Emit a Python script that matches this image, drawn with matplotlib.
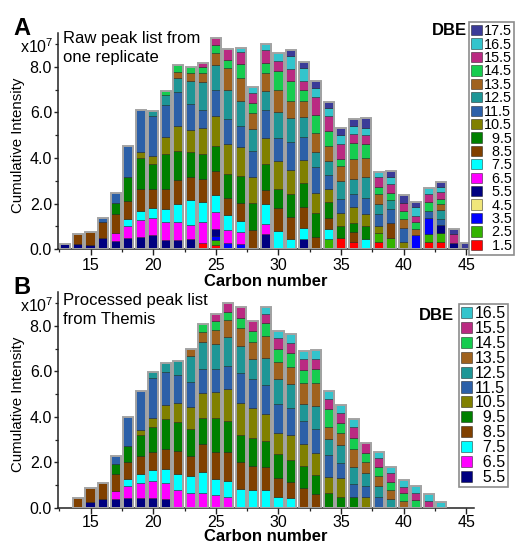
import matplotlib
matplotlib.use('Agg')
import matplotlib.pyplot as plt
import numpy as np
from matplotlib.ticker import MultipleLocator, FormatStrFormatter
from matplotlib.patches import Patch

W, H = 515, 543
plt.rcParams['font.family'] = ['Liberation Sans', 'DejaVu Sans']
plt.rcParams['mathtext.fontset'] = 'custom'
plt.rcParams['mathtext.rm'] = 'Liberation Sans'
plt.rcParams['mathtext.it'] = 'Liberation Sans:italic'
plt.rcParams['mathtext.bf'] = 'Liberation Sans:bold'

# ---------------- data ----------------
dbe_levels = ['1.5', '2.5', '3.5', '4.5', '5.5', '6.5', '7.5', '8.5', '9.5',
              '10.5', '11.5', '12.5', '13.5', '14.5', '15.5', '16.5', '17.5']
dbe_colors = ['#FF0000', '#33B300', '#0000FF', '#F0E67A', '#000080', '#FF00FF',
              '#00FFFF', '#804000', '#008000', '#808000', '#2C60A8', '#1E9696',
              '#A0621E', '#16CC4F', '#BA2A82', '#33C4CC', '#3B3B98']

# Panel A: raw peak list, carbon numbers 13..45 (intensity in 1e7)
carbons_a = list(range(13, 46))
a_1_5 = [0, 0, 0, 0, 0, 0, 0, 0, 0, 0, 0, .28, .18, 0, 0, 0, 0, 0, 0, 0, 0, 0, .48, .34, 0, .31, 0, 0, 0, .31, .31, 0, 0]
a_2_5 = [0, 0, 0, 0, 0, 0, 0, 0, 0, 0, 0, 0, .22, 0, 0, 0, 0, 0, 0, 0, 0, .45, 0, 0, 0, .39, .51, 0, 0, .35, .39, 0, 0]
a_3_5 = [0]*12 + [.17, .28, .25] + [0]*13 + [.63, .70] + [0, 0, 0]
a_4_5 = [0]*33
a_5_5 = [.22, .22, .19, .48, .37, .51, .54, .63, .41, .42, .47, 0, .34, 0, 0, 0, .66, 0, 0, .45, 0, 0, 0, 0, 0, 0, 0, 0, 0, 0, .37, .29, 0]
a_6_5 = [0, 0, 0, 0, .33, .49, .75, .73, .79, .78, .58, .92, .73, .55, .51, 0, .44] + [0]*16
a_7_5 = [0, 0, 0, 0, 0, .33, .41, .47, .56, .78, 1.13, .88, .76, .66, .48, 0, .88, .82, .45, .47, 0, .43, 0, 0, .44] + [0]*8
a_8_5 = [0, .44, .56, .71, .84, .78, .95, .82, .88, 1.08, .97, 1.02, 1.04, .78, .80, .86, .61, .98, .98, .95, .56, .48, 0, .41, 0, 0, .63, 0, 0, 0, 0, 0, 0]
a_9_5 = [0, 0, 0, 0, .48, 1.04, 1.35, 1.08, 1.53, 1.26, 1.13, 1.10, 1.08, 1.05, 1.17, 1.15, 1.13, .84, .99, 1.03, 1.02, .73, .52, .42, .60] + [0]*8
a_10_5 = [0, 0, 0, 0, 0, 0, .26, .37, .75, 1.08, .95, 1.10, 1.32, 1.32, 1.26, 1.17, 1.14, 1.24, 1.04, 1.02, .91, .55, .61, .70, .50, .34, 0, .34, 0, 0, 0, 0, 0]
a_11_5 = [0, 0, 0, .19, .44, 1.36, 1.83, 1.76, 1.40, 1.51, 1.14, .83, 1.14, 1.06, .95, 1.14, 1.25, 1.00, 1.23, 1.00, 1.14, .63, .59, .55, .70, .50, .63, .61, 0, .32, .26, 0, 0]
a_12_5 = [0]*7 + [.19, .45, .62, 1.03, 1.19, 1.10, 1.28, 1.10, .94, .83, 1.12, 1.06, .88, .62, .62, .80, .65, .95, .45, .40, 0, 0, 0, .40, 0, 0]
a_13_5 = [0]*9 + [.23, .35, .43, .51, .96, 1.01, .70, .78, 1.00, .77, .72, .85, .62, .66, .88, .81, .43, 0, .38, .25, 0, .25, 0, 0]
a_14_5 = [0]*8 + [.18, .32, .26, .23, .37, .36, .58, .47, .44, .83, .84, .45, .77, .70, .31, .71, .63, .33, .32, .37, .31, .41, .23, 0, 0]
a_15_5 = [0]*11 + [.20, .29, .47, .53, .44, .58, .41, .55, .42, .81, .62, .66, .41, .39, .40, .37, .32, .27, .33, .29, .37, 0]
a_16_5 = [0]*14 + [.20, .26, .26, .37, .58, .56, .39, .36, .39, .32, .29, .23, .33, 0, .41, .29, .22, 0, 0]
a_17_5 = [0]*18 + [.24, .26, .29, .25, .32, .33, .44, 0, .25, .34, .22, 0, .25, .22, .29]

# Panel B: processed peak list, carbon numbers 14..43
carbons_b = list(range(14, 44))
b_dbe_levels = ['5.5', '6.5', '7.5', '8.5', '9.5', '10.5', '11.5', '12.5', '13.5', '14.5', '15.5', '16.5']
b_5_5 = [0, .25, .38, .38, .45, .45, .45, .40] + [0]*22
b_6_5 = [0, 0, 0, .38, .52, .63, .75, .68, .79, .64, .64, .57, .50] + [0]*17
b_7_5 = [0, 0, 0, 0, .29, .40, .47, .63, .70, .78, .96, .70, .70, .83, .79, .79, .50, .45] + [0]*12
b_8_5 = [.42, .61, .73, .72, .75, .82, .80, .88, 1.01, .88, 1.20, 1.20, 1.27, 1.17, 1.05, 1.03, .80, .71, .86, .60] + [0]*10
b_9_5 = [0, 0, 0, .44, .73, .91, 1.07, 1.30, 1.26, 1.17, 1.17, 1.50, 1.35, 1.21, 1.22, 1.14, 1.07, .95, .98, .85, .64, .50, .50] + [0]*7
b_10_5 = [0]*5 + [.22, .43, .63, .84, .98, 1.07, 1.11, 1.41, 1.39, 1.32, 1.17, .91, 1.10, .97, .98, .74, .83, 0, .47] + [0]*6
b_11_5 = [0, 0, 0, .36, 1.24, 1.72, 1.73, 1.44, 1.24, 1.07, 1.07, 1.03, 1.02, 1.32, 1.28, 1.27, 1.27, 1.17, 1.03, 1.03, .95, .63, .55, .50, .50] + [0]*5
b_12_5 = [0]*6 + [.26, .40, .63, 1.16, 1.20, 1.10, 1.27, 1.20, .90, 1.17, 1.10, 1.05, .73, 1.02, .69, .81, .74, .55, .47, .40] + [0]*4
b_13_5 = [0]*9 + [.30, .41, .61, .74, .77, .74, 1.00, .75, .75, .91, 1.00, .55, .51, .80, .49, .44, .39, .31] + [0]*3
b_14_5 = [0]*10 + [.36, .39, .36, .47, .47, .54, .58, .61, .58, .61, .76, .44, .50, .42, .38, .37, .33, .35] + [0]*2
b_15_5 = [0]*11 + [.30, .40, .45, .46, .41, .47, .47, .47, .44, .46, .44, .45, .41, .39, .36, .30, .29, .31] + [0]
b_16_5 = [0]*15 + [.29, .32, .37, .37, .41, .36, .36, .35, 0, .29, .30, .29, .33, .29, .28]

series_a = dict(zip(dbe_levels, [a_1_5, a_2_5, a_3_5, a_4_5, a_5_5, a_6_5, a_7_5, a_8_5, a_9_5,
                                 a_10_5, a_11_5, a_12_5, a_13_5, a_14_5, a_15_5, a_16_5, a_17_5]))
series_b = dict(zip(b_dbe_levels, [b_5_5, b_6_5, b_7_5, b_8_5, b_9_5, b_10_5, b_11_5, b_12_5,
                                   b_13_5, b_14_5, b_15_5, b_16_5]))
color_of = dict(zip(dbe_levels, dbe_colors))

# ---------------- figure ----------------
fig = plt.figure(figsize=(W / 100, H / 100), dpi=100)


def fx(x):
    return x / W


def fy(y):
    return 1 - y / H


def make_axes(top_px, bottom_px):
    left, right = 58.3, 474
    return fig.add_axes([fx(left), fy(bottom_px), (right - left) / W, (bottom_px - top_px) / H])


def draw_panel(ax, carbons, series, levels, xpad):
    x = np.array(carbons, dtype=float)
    bottom = np.zeros(len(x))
    for lvl in levels:
        vals = np.array(series[lvl], dtype=float)
        m = vals > 0
        if m.any():
            ax.bar(x[m], vals[m], bottom=bottom[m], width=0.8, color=color_of[lvl],
                   edgecolor=(0, 0, 0, 0.45), linewidth=0.6, zorder=2)
        bottom += vals
    ax.bar(x, bottom, width=0.8, fill=False, edgecolor='#a3a3a3', linewidth=1.4, zorder=3)

    ax.set_xlim(12.43, 45.6)
    ax.set_ylim(0, 9.5)
    ax.xaxis.set_major_locator(MultipleLocator(5))
    ax.xaxis.set_minor_locator(MultipleLocator(2.5))
    ax.yaxis.set_major_locator(MultipleLocator(2))
    ax.yaxis.set_minor_locator(MultipleLocator(1))
    ax.yaxis.set_major_formatter(FormatStrFormatter('%.1f'))
    for s in ['top', 'right']:
        ax.spines[s].set_visible(False)
    for s in ['left', 'bottom']:
        ax.spines[s].set_linewidth(1.1)
        ax.spines[s].set_color('#222222')
    ax.tick_params(axis='x', which='major', direction='out', length=4, width=1.0,
                   color='#222222', labelsize=11.5, pad=xpad)
    ax.tick_params(axis='x', which='minor', direction='out', length=2.5, width=0.9, color='#222222')
    ax.tick_params(axis='y', which='major', direction='out', length=3, width=1.0,
                   color='#222222', labelsize=11.5, pad=1.5)
    ax.tick_params(axis='y', which='minor', direction='out', length=2, width=0.9, color='#222222')
    ax.set_ylabel('Cumulative Intensity', fontsize=10.8)
    ax.yaxis.set_label_coords(-0.079, 0.48)


def add_legend(ax, levels, anchor_px, fs, lspace, hl, hh):
    handles = [Patch(facecolor=color_of[l], edgecolor=(0, 0, 0, 0.5), linewidth=0.6) for l in levels[::-1]]
    labels = [l if len(l) == 4 else '\u2007' + l for l in levels[::-1]]
    leg = ax.legend(handles, labels, loc='upper left',
                    bbox_to_anchor=(fx(anchor_px[0]), fy(anchor_px[1])),
                    bbox_transform=fig.transFigure, fontsize=fs, frameon=True,
                    fancybox=False, borderpad=0.15, borderaxespad=0, labelspacing=lspace,
                    handlelength=hl, handleheight=hh, handletextpad=0.15)
    fr = leg.get_frame()
    fr.set_edgecolor('#8c8c8c')
    fr.set_linewidth(1.2)
    fr.set_facecolor('white')
    fr.set_alpha(1)
    return leg


# Panel A
axA = make_axes(32.7, 249.3)
draw_panel(axA, carbons_a, series_a, dbe_levels, 2)
axA.set_xlabel('Carbon number', fontsize=12, fontweight='bold')
axA.xaxis.set_label_coords(0.5, -0.116)
add_legend(axA, dbe_levels, (469, 22), 10.4, -0.04, 0.74, 0.72)

# Panel B
axB = make_axes(291.7, 508)
draw_panel(axB, carbons_b, series_b, b_dbe_levels, 0.8)
axB.set_xlabel('Carbon number', fontsize=12, fontweight='bold')
axB.xaxis.set_label_coords(0.5, -0.097)
add_legend(axB, b_dbe_levels, (459, 304), 11.5, -0.01, 0.67, 0.69)

# Texts
fig.text(fx(13), fy(35), 'A', fontsize=17, fontweight='bold', va='baseline', ha='left')
fig.text(fx(13), fy(293.5), 'B', fontsize=17, fontweight='bold', va='baseline', ha='left')
fig.text(fx(20), fy(53), r'x10$^{7}$', fontsize=11.5, va='baseline', ha='left')
fig.text(fx(20), fy(311.5), r'x10$^{7}$', fontsize=11.5, va='baseline', ha='left')
fig.text(fx(63.3), fy(43.3), 'Raw peak list from', fontsize=12, va='baseline', ha='left')
fig.text(fx(63.3), fy(62.3), 'one replicate', fontsize=12, va='baseline', ha='left')
fig.text(fx(63.3), fy(305), 'Processed peak list', fontsize=12, va='baseline', ha='left')
fig.text(fx(63.3), fy(324), 'from Themis', fontsize=12, va='baseline', ha='left')
fig.text(fx(467), fy(35), 'DBE', fontsize=12, fontweight='bold', va='baseline', ha='right')
fig.text(fx(454), fy(320), 'DBE', fontsize=12, fontweight='bold', va='baseline', ha='right')

fig.savefig('out.png', dpi=100)
